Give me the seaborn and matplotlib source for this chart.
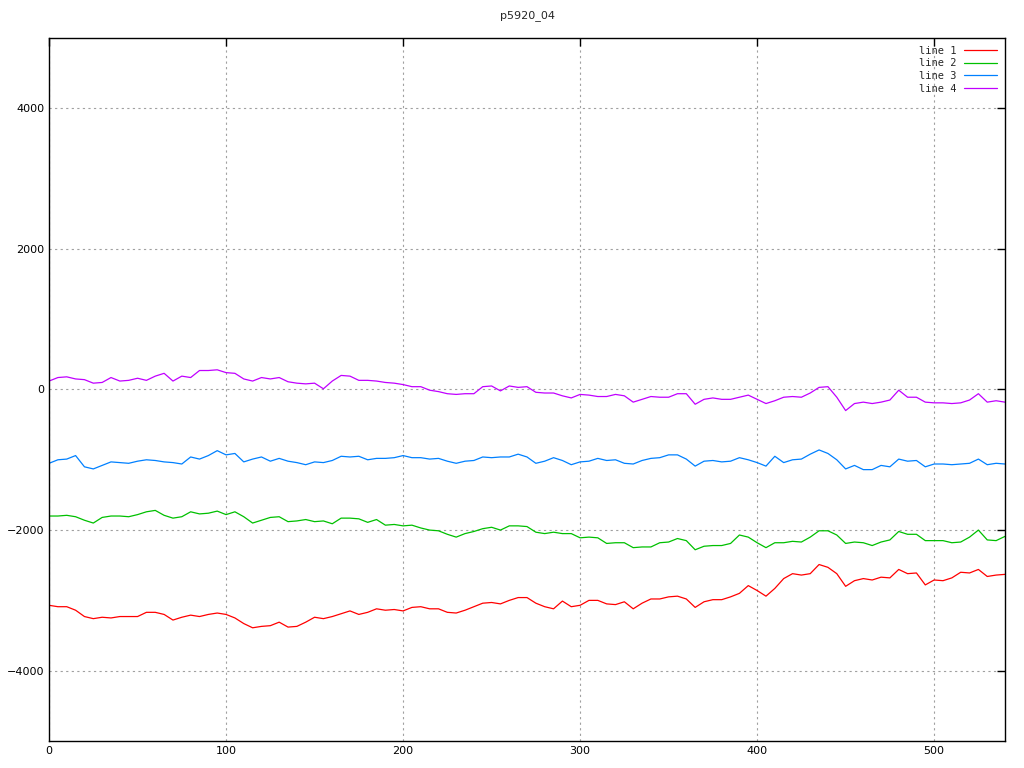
import matplotlib
matplotlib.use("Agg")
import matplotlib.pyplot as plt
import seaborn as sns
import pandas as pd
import numpy as np

# sample positions along the x axis (every 5 units)
x_vals = list(range(0, 545, 5))

line1 = [-3070, -3090, -3090, -3140, -3230, -3260, -3240, -3250, -3230, -3230, -3230, -3170, -3170, -3200, -3280, -3240, -3210, -3230, -3200,
         -3180, -3200, -3250, -3330, -3390, -3370, -3360, -3310, -3380, -3370, -3310, -3240, -3260, -3230, -3190, -3150, -3200, -3170,
         -3120, -3140, -3130, -3150, -3100, -3090, -3120, -3120, -3170, -3180, -3140, -3090, -3040, -3030, -3050, -3000, -2960, -2960,
         -3040, -3090, -3120, -3010, -3090, -3070, -3000, -3000, -3050, -3060, -3020, -3120, -3040, -2980, -2980, -2950, -2940, -2980,
         -3100, -3020, -2990, -2990, -2950, -2900, -2790, -2860, -2940, -2830, -2690, -2620, -2640, -2620, -2490, -2530, -2620, -2800,
         -2720, -2690, -2710, -2670, -2680, -2560, -2620, -2610, -2780, -2710, -2720, -2680, -2600, -2610, -2560, -2660, -2640, -2630]

line2 = [-1800, -1800, -1790, -1810, -1860, -1900, -1820, -1800, -1800, -1810, -1780, -1740, -1720, -1790, -1830, -1810, -1740, -1770, -1760,
         -1730, -1780, -1740, -1810, -1900, -1860, -1820, -1810, -1880, -1870, -1850, -1880, -1870, -1910, -1830, -1830, -1840, -1890,
         -1850, -1930, -1920, -1940, -1930, -1970, -2000, -2010, -2060, -2100, -2050, -2020, -1980, -1960, -2000, -1940, -1940, -1950,
         -2030, -2050, -2030, -2050, -2050, -2110, -2100, -2110, -2190, -2180, -2180, -2250, -2240, -2240, -2180, -2170, -2120, -2150,
         -2280, -2230, -2220, -2220, -2190, -2070, -2100, -2180, -2250, -2180, -2180, -2160, -2170, -2100, -2010, -2010, -2070, -2190,
         -2170, -2180, -2220, -2170, -2140, -2020, -2060, -2060, -2150, -2150, -2150, -2180, -2170, -2100, -2000, -2140, -2150, -2090]

line3 = [-1050, -1000, -990, -940, -1100, -1130, -1080, -1030, -1040, -1050, -1020, -1000, -1010, -1030, -1040, -1060, -960, -990, -940,
         -870, -930, -910, -1030, -990, -960, -1020, -980, -1020, -1040, -1070, -1030, -1040, -1010, -950, -960, -950, -1000,
         -980, -980, -970, -940, -970, -970, -990, -980, -1020, -1050, -1020, -1010, -960, -970, -960, -960, -920, -960,
         -1050, -1020, -970, -1010, -1070, -1030, -1020, -980, -1010, -1000, -1050, -1060, -1010, -980, -970, -930, -930, -990,
         -1090, -1020, -1010, -1030, -1020, -970, -1000, -1040, -1090, -950, -1040, -1000, -990, -920, -860, -910, -1000, -1130,
         -1080, -1140, -1140, -1080, -1100, -990, -1020, -1010, -1100, -1060, -1060, -1070, -1060, -1050, -990, -1070, -1050, -1060]

line4 = [120, 170, 180, 150, 140, 90, 100, 170, 120, 130, 160, 130, 190, 230, 120, 190, 170, 270, 270,
         280, 240, 230, 150, 120, 170, 150, 170, 110, 90, 80, 90, 10, 120, 200, 190, 130, 130,
         120, 100, 90, 70, 40, 40, -10, -30, -60, -70, -60, -60, 40, 50, -20, 50, 30, 40,
         -40, -50, -50, -90, -120, -70, -80, -100, -100, -70, -90, -180, -140, -100, -110, -110, -60, -60,
         -210, -140, -120, -140, -140, -110, -80, -140, -200, -160, -110, -100, -110, -50, 30, 40, -110, -300,
         -200, -180, -200, -180, -150, -10, -110, -110, -180, -190, -190, -200, -190, -150, -60, -180, -160, -180]

labels = ["line 1", "line 2", "line 3", "line 4"]
colors = ["#ff0000", "#00c000", "#0080ff", "#c000ff"]

df = pd.concat([pd.DataFrame({"x": x_vals, "y": vals, "series": lab})
                for lab, vals in zip(labels, [line1, line2, line3, line4])])

sns.set_style("white")
plt.rcParams['font.family'] = ['DejaVu Sans']

fig = plt.figure(figsize=(10.24, 7.68), dpi=100)
ax = fig.add_axes([0.0479, 0.0352, 0.9335, 0.9153])

sns.lineplot(data=df, x="x", y="y", hue="series", palette=dict(zip(labels, colors)),
             linewidth=0.9, ax=ax, legend=True)

ax.set_xlim(0, 540)
ax.set_ylim(-5000, 5000)
ax.set_xticks(range(0, 501, 100))
ax.set_yticks([-4000, -2000, 0, 2000, 4000])
ax.set_xlabel("")
ax.set_ylabel("")
ax.tick_params(direction="in", length=6, width=1, top=True, right=True,
               labelsize=8, colors="black")
ax.grid(True, color="#a0a0a0", linestyle=(0, (2, 3)), linewidth=0.8)
for s in ax.spines.values():
    s.set_color("black")
    s.set_linewidth(1)

ax.set_title("p5920_04", fontsize=8, pad=14)

leg = ax.legend(loc="upper right", frameon=False, markerfirst=False,
                handlelength=3.2, handletextpad=0.7, labelspacing=0.25,
                borderaxespad=0.35, prop={"family": "DejaVu Sans Mono", "size": 7.5})

fig.savefig("out.png", dpi=100)
